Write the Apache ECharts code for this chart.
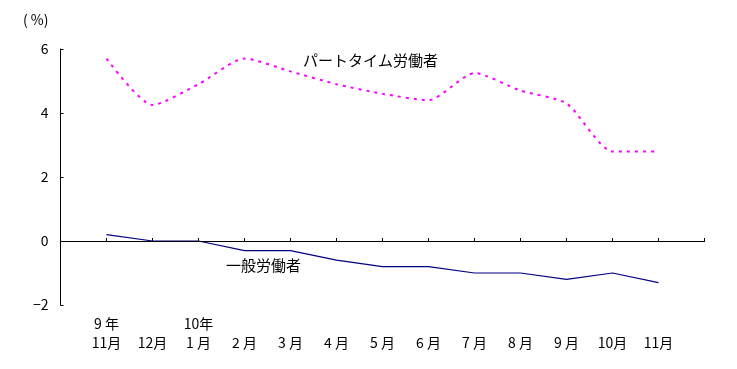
<!DOCTYPE html>
<html>
<head>
<meta charset="utf-8">
<script src="https://cdn.jsdelivr.net/npm/echarts@6/dist/echarts.min.js"></script>
<style>
html,body{margin:0;padding:0;background:#fff;}
#chart{width:737px;height:369px;}
</style>
</head>
<body>
<div id="chart"></div>
<script>
var yearLabels = ['9 年', '', '10年', '', '', '', '', '', '', '', '', '', ''];
var monthLabels = ['11月', '12月', '1 月', '2 月', '3 月', '4 月', '5 月', '6 月', '7 月', '8 月', '9 月', '10月', '11月'];
var partTime = [5.7, 4.25, 4.9, 5.7, 5.3, 4.9, 4.6, 4.4, 5.25, 4.7, 4.3, 2.8, 2.8];
var general = [0.2, 0.0, 0.0, -0.3, -0.3, -0.6, -0.8, -0.8, -1.0, -1.0, -1.2, -1.0, -1.3];
var yTicks = [-2, 0, 2, 4, 6];

var FONT = '"Noto Sans CJK JP", "DejaVu Sans", sans-serif';
// pad one empty slot on each side (axis starts/ends between data months)
var categories = [''].concat(monthLabels.map(function (m, i) { return yearLabels[i] + '\n' + m; })).concat(['']);
var partData = [null].concat(partTime).concat([null]);
var genData = [null].concat(general).concat([null]);

var chart = echarts.init(document.getElementById('chart'), null, {renderer: 'canvas'});
chart.setOption({
  animation: false,
  backgroundColor: '#ffffff',
  grid: {left: 60.5, right: 32.5, top: 49, bottom: 64},
  xAxis: {
    type: 'category',
    data: categories,
    boundaryGap: false,
    axisLine: {lineStyle: {color: '#000', width: 1}},
    axisTick: {inside: true, length: 3, interval: 0, lineStyle: {color: '#000'}},
    axisLabel: {interval: 0, color: '#000', fontFamily: FONT, fontSize: 14, lineHeight: 19, margin: 9},
    splitLine: {show: false}
  },
  yAxis: {
    type: 'value',
    min: yTicks[0],
    max: yTicks[yTicks.length - 1],
    interval: 2,
    axisLine: {show: true, lineStyle: {color: '#000', width: 1}},
    axisTick: {show: true, inside: true, length: 3, lineStyle: {color: '#000'}},
    axisLabel: {color: '#000', fontFamily: FONT, fontSize: 14, margin: 12,
      formatter: function (v) { return v < 0 ? '\u2212' + Math.abs(v) : String(v); }},
    splitLine: {show: false}
  },
  graphic: [
    {type: 'text', left: 23, top: 13, style: {text: '( %)', font: '14px ' + FONT, fill: '#000'}},
    {type: 'text', left: 303, top: 53, style: {text: 'パートタイム労働者', font: '15px ' + FONT, fill: '#000'}},
    {type: 'text', left: 226, top: 258, style: {text: '一般労働者', font: '15px ' + FONT, fill: '#000'}}
  ],
  series: [
    {
      name: 'パートタイム労働者',
      type: 'line',
      data: partData,
      smooth: 0.22,
      symbol: 'none',
      lineStyle: {color: '#ff00ff', width: 2, type: [3, 5]},
      z: 3
    },
    {
      name: '一般労働者',
      type: 'line',
      data: genData,
      smooth: false,
      symbol: 'none',
      lineStyle: {color: '#000080', width: 1.2},
      markLine: {
        silent: true,
        symbol: 'none',
        label: {show: false},
        lineStyle: {color: '#000', width: 1, type: 'solid'},
        data: [{yAxis: 0}]
      },
      z: 3
    }
  ]
});
</script>
</body>
</html>
